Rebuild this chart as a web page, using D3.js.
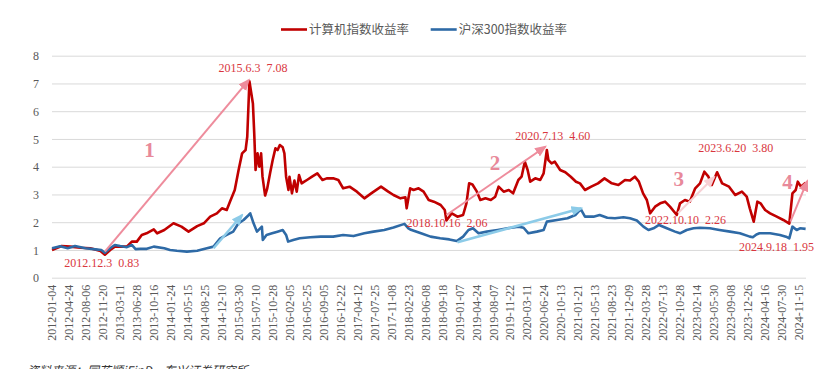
<!DOCTYPE html>
<html>
<head>
<meta charset="utf-8">
<script src="https://cdn.jsdelivr.net/npm/d3@7"></script>
<style>
  body { margin: 0; background: #fff; }
  svg { display: block; }
  .grid line { stroke: #d9d9d9; stroke-width: 1; }
  .grid .domain { display: none; }
  .ytick text { fill: #595959; font-family: "Liberation Serif", serif; font-size: 12px; }
  .xtick text { fill: #595959; font-family: "Liberation Serif", serif; font-size: 12px; }
  .xtick .domain, .xtick line { display: none; }
  .legend text { fill: #595959; font-family: "Noto Sans CJK SC", sans-serif; font-size: 12.5px; }
  .note { fill: #d9363e; font-family: "Liberation Serif", serif; font-size: 12px; white-space: pre; }
  .bignum { fill: #e8899a; font-family: "Liberation Serif", serif; font-size: 21px; font-weight: bold; }
</style>
</head>
<body>
<script>
//category labels on the x axis
var tickLabels = ["2012-01-04","2012-04-24","2012-08-06","2012-11-20","2013-03-11","2013-06-28",
    "2013-10-16","2014-01-24","2014-05-15","2014-08-25","2014-12-10","2015-03-30","2015-07-10",
    "2015-10-28","2016-02-05","2016-05-25","2016-09-05","2016-12-22","2017-04-12","2017-07-25",
    "2017-11-08","2018-02-23","2018-06-08","2018-09-18","2019-01-07","2019-04-24","2019-08-07",
    "2019-11-22","2020-03-11","2020-06-24","2020-10-13","2021-01-21","2021-05-13","2021-08-23",
    "2021-12-09","2022-03-28","2022-07-13","2022-10-28","2023-02-14","2023-05-30","2023-09-08",
    "2023-12-26","2024-04-16","2024-07-30","2024-11-15"];

var yTicks = [0, 1, 2, 3, 4, 5, 6, 7, 8];

var seriesNames = ["计算机指数收益率", "沪深300指数收益率"];

//计算机指数收益率
var computerSeries = [["2012-01-04",1.00],["2012-03-07",1.14],["2012-05-02",1.12],["2012-07-04",1.08],
    ["2012-09-03",1.06],["2012-11-05",0.96],["2012-12-03",0.83],["2013-01-07",1.00],["2013-02-06",1.12],
    ["2013-04-25",1.12],["2013-05-27",1.30],["2013-06-28",1.30],["2013-07-30",1.54],["2013-08-30",1.60],
    ["2013-10-16",1.74],["2013-11-05",1.60],["2013-12-17",1.72],["2014-02-11",1.96],["2014-04-04",1.84],
    ["2014-05-20",1.66],["2014-07-11",1.86],["2014-08-20",1.96],["2014-09-29",2.20],["2014-11-10",2.32],
    ["2014-12-12",2.50],["2015-01-12",2.44],["2015-02-02",2.74],["2015-03-05",3.16],["2015-03-30",3.88],
    ["2015-04-20",4.48],["2015-05-11",4.60],["2015-05-21",5.08],["2015-06-03",7.08],["2015-06-24",6.28],
    ["2015-07-02",5.20],["2015-07-10",3.88],["2015-07-23",4.48],["2015-08-03",4.00],["2015-08-15",4.48],
    ["2015-08-24",3.64],["2015-09-10",2.96],["2015-09-23",3.20],["2015-10-12",3.76],["2015-10-29",4.24],
    ["2015-11-14",4.66],["2015-11-27",4.60],["2015-12-10",4.78],["2015-12-27",4.70],["2016-01-06",4.48],
    ["2016-01-16",3.64],["2016-01-30",3.16],["2016-02-05",3.64],["2016-02-21",3.04],["2016-03-08",3.50],
    ["2016-03-23",3.10],["2016-04-07",3.70],["2016-04-24",3.40],["2016-05-11",3.46],["2016-05-28",3.52],
    ["2016-06-28",3.64],["2016-07-30",3.76],["2016-08-30",3.52],["2016-09-26",3.58],["2016-11-06",3.58],
    ["2016-12-09",3.52],["2017-01-09",3.22],["2017-02-20",3.28],["2017-04-09",3.10],["2017-05-25",2.86],
    ["2017-07-06",3.04],["2017-09-05",3.28],["2017-10-20",3.10],["2017-11-22",2.98],["2018-01-05",2.86],
    ["2018-02-05",2.90],["2018-02-13",2.50],["2018-03-07",3.22],["2018-03-28",3.16],["2018-04-28",3.22],
    ["2018-05-29",3.10],["2018-06-29",2.80],["2018-07-30",2.74],["2018-09-09",2.62],["2018-10-05",2.44],
    ["2018-10-16",2.06],["2018-11-20",2.32],["2018-12-27",2.20],["2019-02-01",2.26],["2019-02-22",2.68],
    ["2019-03-11",3.40],["2019-04-01",3.36],["2019-04-29",3.10],["2019-05-20",2.80],["2019-06-21",2.86],
    ["2019-07-24",2.80],["2019-08-21",2.92],["2019-09-11",3.28],["2019-10-13",3.10],["2019-11-14",3.16],
    ["2019-12-12",3.04],["2020-01-15",3.52],["2020-02-05",3.64],["2020-02-26",4.18],["2020-03-15",3.88],
    ["2020-03-31",3.46],["2020-05-01",3.58],["2020-06-01",3.52],["2020-06-22",3.76],["2020-07-13",4.60],
    ["2020-07-23",4.24],["2020-08-13",4.12],["2020-09-03",4.18],["2020-10-08",3.88],["2020-11-08",3.80],
    ["2020-12-10",3.64],["2021-01-10",3.46],["2021-02-04",3.40],["2021-03-09",3.16],["2021-04-19",3.28],
    ["2021-06-01",3.40],["2021-07-10",3.58],["2021-08-23",3.40],["2021-10-04",3.34],["2021-11-15",3.52],
    ["2021-12-17",3.50],["2022-01-17",3.64],["2022-02-12",3.46],["2022-03-11",3.04],["2022-04-04",2.80],
    ["2022-04-25",2.32],["2022-05-26",2.56],["2022-06-27",2.68],["2022-07-28",2.74],["2022-08-28",2.56],
    ["2022-10-10",2.26],["2022-10-30",2.68],["2022-12-01",2.80],["2023-01-01",2.74],["2023-02-05",3.22],
    ["2023-03-07",3.40],["2023-04-03",3.82],["2023-04-28",3.64],["2023-05-19",3.34],["2023-06-13",3.70],
    ["2023-06-20",3.80],["2023-07-20",3.40],["2023-08-30",3.28],["2023-10-08",2.98],["2023-11-20",3.10],
    ["2023-12-21",2.92],["2024-01-10",2.50],["2024-02-05",2.02],["2024-02-29",2.74],["2024-03-21",2.68],
    ["2024-04-20",2.44],["2024-05-21",2.32],["2024-07-01",2.20],["2024-08-11",2.08],["2024-09-18",1.95],
    ["2024-10-08",3.04],["2024-10-29",3.16],["2024-11-11",3.46],["2024-12-01",3.28],["2024-12-27",3.40],
    ["2024-12-31",3.42]];

//沪深300指数收益率
var hs300Series = [["2012-01-04",1.06],["2012-02-27",1.13],["2012-04-16",1.06],["2012-05-31",1.14],
    ["2012-08-03",1.06],["2012-10-05",1.02],["2012-11-10",1.00],["2012-12-03",0.90],["2013-01-05",1.06],
    ["2013-02-06",1.18],["2013-03-13",1.14],["2013-04-25",1.10],["2013-05-27",1.18],["2013-06-20",1.03],
    ["2013-07-20",1.04],["2013-09-01",1.04],["2013-10-16",1.12],["2013-12-17",1.06],["2014-01-20",1.00],
    ["2014-03-05",0.97],["2014-05-10",0.94],["2014-07-11",0.97],["2014-09-08",1.06],["2014-10-20",1.12],
    ["2014-12-01",1.42],["2015-01-12",1.54],["2015-02-23",1.66],["2015-03-29",1.96],["2015-04-29",2.08],
    ["2015-05-30",2.26],["2015-06-08",2.32],["2015-06-28",1.96],["2015-07-19",1.66],["2015-08-20",1.84],
    ["2015-08-26",1.36],["2015-09-19",1.54],["2015-10-25",1.60],["2015-11-26",1.66],["2015-12-27",1.72],
    ["2016-01-16",1.54],["2016-01-28",1.30],["2016-02-29",1.36],["2016-04-11",1.42],["2016-06-17",1.46],
    ["2016-08-20",1.48],["2016-11-06",1.48],["2017-01-09",1.54],["2017-03-18",1.50],["2017-05-25",1.60],
    ["2017-07-20",1.66],["2017-09-25",1.72],["2017-11-22",1.81],["2018-01-30",1.94],["2018-02-24",1.78],
    ["2018-03-07",1.74],["2018-05-13",1.60],["2018-07-10",1.48],["2018-09-06",1.42],["2018-11-04",1.38],
    ["2018-12-22",1.32],["2019-02-01",1.48],["2019-03-07",1.72],["2019-04-04",1.78],["2019-05-09",1.60],
    ["2019-06-30",1.66],["2019-09-06",1.72],["2019-11-06",1.78],["2020-01-16",1.84],["2020-02-18",1.80],
    ["2020-03-20",1.60],["2020-05-11",1.66],["2020-06-22",1.72],["2020-07-13",2.02],["2020-09-18",2.08],
    ["2020-11-21",2.14],["2021-01-06",2.26],["2021-01-25",2.38],["2021-02-10",2.46],["2021-03-09",2.20],
    ["2021-05-04",2.20],["2021-06-11",2.26],["2021-07-27",2.16],["2021-09-12",2.14],["2021-11-05",2.18],
    ["2021-12-17",2.14],["2022-01-30",2.06],["2022-03-13",1.84],["2022-04-14",1.72],["2022-05-16",1.78],
    ["2022-06-20",1.90],["2022-08-08",1.78],["2022-09-29",1.66],["2022-10-30",1.60],["2022-12-12",1.72],
    ["2023-01-25",1.78],["2023-03-07",1.80],["2023-05-08",1.78],["2023-07-04",1.72],["2023-09-05",1.66],
    ["2023-11-07",1.60],["2024-01-10",1.48],["2024-01-30",1.46],["2024-02-23",1.56],["2024-03-14",1.60],
    ["2024-05-21",1.60],["2024-07-21",1.54],["2024-08-28",1.48],["2024-09-18",1.42],["2024-10-08",1.84],
    ["2024-11-04",1.72],["2024-11-25",1.78],["2024-12-31",1.76]];

//turning point notes: [date, value, text]
var noteLabels = [["2012-11-13",0.53,"2012.12.3  0.83"],["2015-06-24",7.55,"2015.6.3  7.08"],
    ["2018-10-20",1.97,"2018.10.16  2.06"],["2020-08-20",5.11,"2020.7.13  4.60"],
    ["2022-12-04",2.08,"2022.10.10  2.26"],["2023-10-11",4.67,"2023.6.20  3.80"],
    ["2024-06-30",1.11,"2024.9.18  1.95"]];

//phase numbers: [date, value, text]
var phaseLabels = [["2013-09-19",4.6,"1"],["2019-08-19",4.13,"2"],["2022-10-22",3.56,"3"],["2024-09-06",3.45,"4"]];

//arrows: [from date, from value, to date, to value, kind]
var arrowList = [["2012-12-03",0.94,"2015-05-30",7.12,"pink"],["2018-10-16",2.26,"2020-07-03",4.72,"pink"],
    ["2022-10-18",2.33,"2023-06-02",3.62,"faint"],["2024-09-25",2.02,"2025-01-10",3.48,"pink"],
    ["2014-10-20",1.06,"2015-04-20",2.26,"blue"],["2018-12-27",1.28,"2021-02-14",2.50,"blue"]];

window.onload = drawChart();

function drawChart(){
    var width = 823,
        height = 369;
    var left = 52, right = 806, top = 55.7, bottom = 277.7;
    var lastTickX = 798.4;

    var parseDate = d3.timeParse("%Y-%m-%d");

    var svg = d3.select("body")
        .append("svg")
        .attr("width", width)
        .attr("height", height);

    //category positions of the tick labels
    var xPoint = d3.scalePoint()
        .domain(tickLabels)
        .range([left, lastTickX]);

    //piecewise time scale so dates fall between the category labels
    var x = d3.scaleTime()
        .domain(tickLabels.map(parseDate))
        .range(tickLabels.map(function(d){ return xPoint(d); }));

    var y = d3.scaleLinear()
        .domain([0, 8])
        .range([bottom, top]);

    //gridlines and y labels
    var yAxis = svg.append("g")
        .attr("class", "grid ytick")
        .attr("transform", "translate(" + left + ",0)")
        .call(d3.axisLeft(y).tickValues(yTicks).tickSize(-(right - left)).tickPadding(13).tickFormat(d3.format("d")));
    yAxis.selectAll("text").attr("dy", "0.35em");

    //x labels, rotated
    var xAxis = svg.append("g")
        .attr("class", "xtick")
        .attr("transform", "translate(0," + bottom + ")")
        .call(d3.axisBottom(xPoint).tickSize(0));
    xAxis.selectAll("text")
        .attr("transform", "rotate(-90)")
        .attr("text-anchor", "end")
        .attr("x", -7)
        .attr("y", 0)
        .attr("dy", "0.33em");

    //lines
    var line = d3.line()
        .x(function(d){ return x(parseDate(d[0])); })
        .y(function(d){ return y(d[1]); });

    svg.append("path")
        .datum(computerSeries)
        .attr("fill", "none")
        .attr("stroke", "#c00000")
        .attr("stroke-width", 2.6)
        .attr("stroke-linejoin", "round")
        .attr("d", line);

    svg.append("path")
        .datum(hs300Series)
        .attr("fill", "none")
        .attr("stroke", "#2e6aa6")
        .attr("stroke-width", 2.6)
        .attr("stroke-linejoin", "round")
        .attr("d", line);

    //arrow heads
    var arrowColors = {pink: "#ee8c9c", faint: "#f7d0d5", blue: "#8ccbe8"};
    var defs = svg.append("defs");
    Object.keys(arrowColors).forEach(function(k){
        defs.append("marker")
            .attr("id", "head-" + k)
            .attr("markerUnits", "userSpaceOnUse")
            .attr("markerWidth", 12)
            .attr("markerHeight", 10)
            .attr("refX", 10)
            .attr("refY", 5)
            .attr("orient", "auto")
            .append("path")
            .attr("d", "M0,0 L12,5 L0,10 Z")
            .attr("fill", arrowColors[k]);
    });

    svg.selectAll(".arrow")
        .data(arrowList)
        .enter()
        .append("line")
        .attr("class", "arrow")
        .attr("x1", function(d){ return x(parseDate(d[0])); })
        .attr("y1", function(d){ return y(d[1]); })
        .attr("x2", function(d){ return x(parseDate(d[2])); })
        .attr("y2", function(d){ return y(d[3]); })
        .attr("stroke", function(d){ return arrowColors[d[4]]; })
        .attr("stroke-width", function(d){ return d[4] == "blue" ? 2.5 : 2; })
        .attr("marker-end", function(d){ return "url(#head-" + d[4] + ")"; });

    //notes
    svg.selectAll(".note")
        .data(noteLabels)
        .enter()
        .append("text")
        .attr("class", "note")
        .attr("x", function(d){ return x(parseDate(d[0])); })
        .attr("y", function(d){ return y(d[1]); })
        .attr("dy", "0.35em")
        .attr("text-anchor", "middle")
        .text(function(d){ return d[2]; });

    svg.selectAll(".bignum")
        .data(phaseLabels)
        .enter()
        .append("text")
        .attr("class", "bignum")
        .attr("x", function(d){ return x(parseDate(d[0])); })
        .attr("y", function(d){ return y(d[1]); })
        .attr("dy", "0.35em")
        .attr("text-anchor", "middle")
        .text(function(d){ return d[2]; });

    //legend
    var legend = svg.append("g").attr("class", "legend");
    var legendX = [281, 430.7];
    var legendColors = ["#c00000", "#2e6aa6"];
    seriesNames.forEach(function(name, i){
        legend.append("line")
            .attr("x1", legendX[i]).attr("x2", legendX[i] + 26)
            .attr("y1", 29.5).attr("y2", 29.5)
            .attr("stroke", legendColors[i])
            .attr("stroke-width", 2.6);
        legend.append("text")
            .attr("x", legendX[i] + 28)
            .attr("y", 29.5)
            .attr("dy", "0.35em")
            .text(name);
    });

    //source line, cut off at the bottom edge
    svg.append("text")
        .attr("x", 27)
        .attr("y", 375)
        .attr("fill", "#333")
        .attr("font-family", "Noto Sans CJK SC, sans-serif")
        .attr("font-size", "12px")
        .attr("font-style", "italic")
        .text("资料来源：同花顺iFinD，东兴证券研究所");
}
</script>
</body>
</html>
